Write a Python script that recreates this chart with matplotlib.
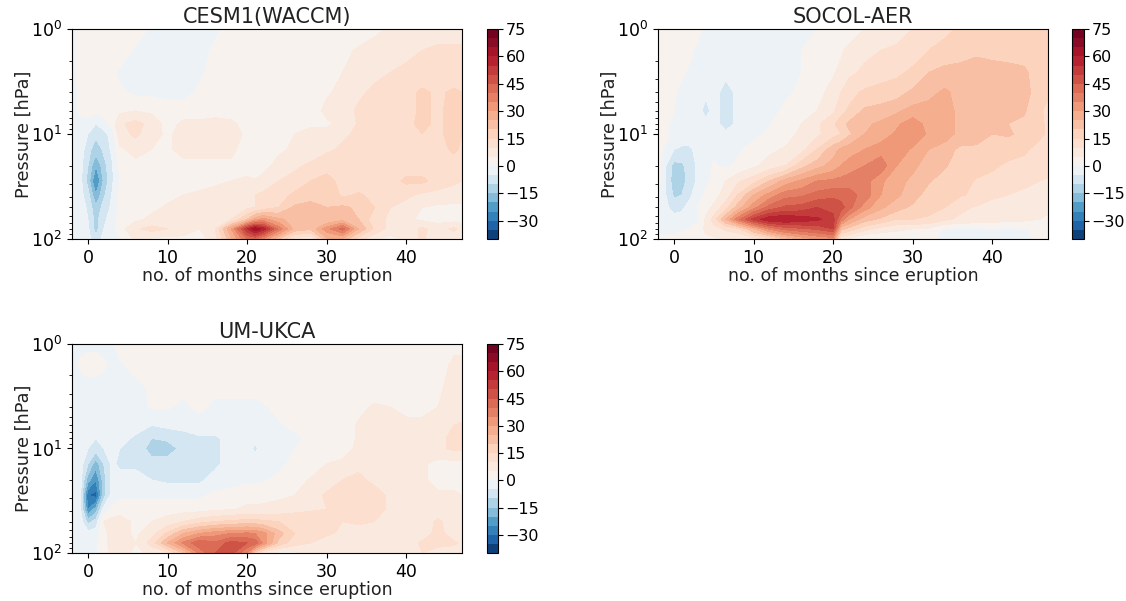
import numpy as np
import matplotlib
matplotlib.use('Agg')
import matplotlib.pyplot as plt
from matplotlib.colors import TwoSlopeNorm

# months since eruption and pressure levels of the grid
months = [-2, -1, 0, 1, 2, 3, 4, 6, 8, 10, 12, 14, 16, 18, 20, 21, 22, 24, 26, 28, 30, 32, 34, 36, 38, 40, 42, 44, 46, 47]
months_socol = [-2, 0, 1, 2, 3, 4, 5, 6.5, 8, 10, 12, 14, 16, 18, 20, 21, 22, 24, 26, 28, 30, 32, 34, 36, 38, 40, 42, 44, 46, 47]
pressure = [1, 1.6, 2.6, 4, 6, 8, 10, 14, 20, 28, 38, 50, 65, 80, 100]

levels = [-40, -35, -30, -25, -20, -15, -10, -5, 0, 5, 10, 15, 20, 25, 30, 35, 40, 45, 50, 55, 60, 65, 70, 75]
cbar_ticks = [-30, -15, 0, 15, 30, 45, 60, 75]

cesm = [
    [-2, 2, 3, 3, 3, 3, 3, 3, -1, -2, -2, -2, -1, 2, 3, 3, 3, 3, 3, 3, 3, 3, 3, 4, 5.5, 6, 7, 8, 8, 8],
    [-2, 2, 3, 3, 3, 3, 3, -1, -2, -2, -2, -2, 1, 3, 3, 3, 3, 3, 3, 3, 3, 4, 5.5, 7, 8, 9, 10, 11, 11, 11],
    [-2, 2, 3, 3, 3, 1, -1, -2, -2, -2, -2, -1, 2, 3, 3, 3, 3, 3, 3, 3, 3, 5, 7, 9, 10, 11, 12, 12, 12, 12],
    [-2, 1, 3, 3, 3, 2, 1, -1, -1, -2, -2, 1, 3, 3, 3, 3, 3, 3, 3, 3, 4.5, 6, 9, 11, 12, 13, 16, 14, 16, 15],
    [-2, 1, 2, 1, 2, 3, 4, 5, 4, 3, 3, 3, 3, 3, 3, 3, 3, 3, 3, 3, 6, 7, 11, 12, 13, 13, 16, 14, 17, 15],
    [-2, -2, -2, -5, -2, 2, 9, 12, 8, 3, 6, 6, 7, 6, 3, 3, 3, 3, 4, 4.5, 4, 7, 10.5, 12, 13, 14, 16, 14, 17, 15],
    [-2, -2, -5, -9, -7, -3, 8, 11, 7, 4, 7, 7, 8, 7, 4, 3, 3, 3, 5, 6, 7, 9, 11, 12, 13, 14, 15, 14, 17, 15],
    [-2, -2, -8, -13, -9, -4, 4, 7, 5, 4, 7, 7, 7, 6, 3, 2, 3, 4, 6, 7, 9, 11, 12, 12, 12, 12, 13, 13, 16, 14],
    [-2, -3, -10, -20, -12, -6, 1, 3, 3, 3, 3, 3, 3, 4, 3, -1, 3, 7, 9, 11, 14, 13, 13, 13, 13, 13, 13, 13, 12, 11.5],
    [-2, -3, -12, -26, -14, -6, 0, 3, 3, 3, 3, 3, 4, 5, 6, 6, 7, 10, 12, 15, 16, 14, 13, 13, 13, 16, 16, 13, 11, 10],
    [-2, -3, -8, -20, -11, -5, 1, 3, 3, 4, 5, 6, 7, 8, 9, 10, 11, 13, 16, 18, 19, 14, 15.5, 14, 12.5, 11, 9, 8, 7, 7],
    [-2, -2, -6, -14, -8, -4, 1, 3, 4, 5.5, 5.5, 7, 8, 8, 9, 10, 12, 15, 21, 22, 20, 21, 19, 15, 10, 8, 5, 4, 4, 4],
    [-2, -2, -5, -12, -6, -3, 2, 4, 6, 6, 6, 8, 9, 10, 20, 28, 32, 26, 23, 23, 20, 23, 20, 12, 9, 6, 4, 3, 3, 3],
    [-2, -2, -4, -12, -5, -3, 3, 9, 12, 10, 9, 5, 10, 30, 54, 64, 58, 38, 23, 21, 33, 42, 25, 14, 8, 7, 11, 8, 11, 8],
    [-1, -2, -3, -9, -3, -2, 0, 6, 4, 3, 3, 2, 8, 24, 40, 40, 34, 20, 8, 5, 24, 24, 12, 6, 3, 6, 11, 5, 6, 5],
]

socol = [
    [3, 3, 3, 2, 1, -1, -1.5, -2, -3, -3, -3, -3, -2, 0, 1, 2, 3, 5, 6, 8, 10, 12, 14, 15.5, 16, 16, 17, 17, 17, 17],
    [3, 3, 3, 1, -1, -2, -2, -3, -3, -3, -3, -3, 0, 1, 3, 4.5, 6, 9, 10, 11, 13, 15, 16.5, 18, 19, 18, 18, 18, 17, 17],
    [3, 2, 1, -1, -2, -3, -3, -4, -3, -3, -3, -2, 0, 3, 4.5, 6, 9, 11, 13, 14, 16, 20, 22, 22, 23, 23, 22, 21, 17, 16],
    [3, 1, -2, -3, -3, -4, -3, -7, -4, -3, -3, -1, 1, 3, 7, 10, 13, 16, 17, 18, 21, 23, 26, 23, 22, 22, 22, 22, 17, 16],
    [3, 0, -1, -2, -3, -7, -3, -7, -4, -3, -2, 1, 3, 5, 9, 13, 16, 21, 22, 24, 27, 28, 28, 23, 22, 22, 22, 20.5, 16, 13],
    [3, -1, -2, -2, -3, -3, -3, -7, -4, -2, -0.5, 3, 5, 9, 14, 18, 21, 24, 26, 29, 33, 28, 28, 23, 22, 22, 20, 19, 16, 14],
    [3, -1, -2, -2, -3, -3, -3, -4, -3, -1.5, 1, 3, 6, 9, 13, 15, 19, 25, 27, 31, 34, 29, 28, 23, 22, 20, 20.5, 19, 16, 14],
    [2, -5, -6, -6, -3, -2, -1, -2, -1, 2, 4, 5.5, 8, 15, 23, 26, 28, 30, 33, 34, 29, 25, 22, 19, 19, 19.5, 17, 16, 13, 12],
    [2, -12, -11, -8, -4, -2, 0.5, -1, 1, 4, 7, 10, 18, 23, 27, 30, 32, 35, 38, 30, 26, 23, 20.5, 18, 17, 16, 14, 13, 12, 12],
    [2, -13, -12, -8, -4, -1, 1, 5, 9, 13, 20, 27, 31, 35, 36, 37, 38, 37, 31, 26.5, 24, 20.5, 18, 17, 14.5, 13, 12, 11, 10, 9.5],
    [1, -11, -10, -6, -2, 1, 3, 7, 15, 25, 32, 38, 39, 42, 44, 43, 42, 38, 30, 26, 22, 18, 17, 15.5, 14, 10.5, 10, 9, 8, 8],
    [-1, -7, -6, -3, 0, 3, 6, 13, 22, 33, 42, 46, 47, 50, 48, 47, 42, 32, 26, 22, 19, 16, 15, 11, 9.5, 9, 8, 7, 6, 6],
    [-2, -3, -3, -2, -1, 6, 12, 25, 38, 52, 59, 60, 58, 56, 52, 38, 30, 22, 19, 15, 15, 14.5, 11, 9, 8, 7, 7, 6, 5, 4],
    [-2, -2, -1, 0, 2, 6, 8, 11, 13, 25, 36, 42, 44, 46, 50, 22, 18, 12, 8, 6, 5, 4, -1, -1, -1, -0.5, -1, -0.5, 1, 2],
    [1, 2, 3, 3, 3, 4, 4, 5, 5, 7, 12, 20, 26, 30, 32, 6, 4, -1, -0.5, 1, -1, 1, -1, -1, -1, -1, -1, -1, 1, 1],
]

ukca = [
    [-2, -1, -1, -1, -1, -0.5, 1, 2, 2, 2, 2, 2, 2, 2, 2, 2, 2, 2, 2, 2, 2, 2, 2, 2, 2, 2, 3, 3, 4, 4],
    [-2, 0.5, 2, 2, 0.5, -1, -0.5, 1, 2, 2, 2, 2, 2, 2, 2, 2, 2, 2, 2, 2, 2, 2, 2, 2, 2, 2, 3, 3, 6, 6],
    [-2, -2, -2, -2, -2, -2, -2, -1, 0.5, 1, 1, 1, 1, 1, 1, 1, 1.5, 2, 2, 2, 2, 2, 3, 3, 3, 3, 3, 4.5, 6, 6],
    [-2, -2, -2, -2, -2, -2, -2, -2, 0.5, 0.5, -1, 1, -1, -1, -1, -1, -0.5, 1, 2, 3, 3, 3, 4, 5.5, 5, 4, 4, 5, 6, 6],
    [-2, -2, -2, -2, -2, -3, -3, -3, -5, -4, -3, -2, -2, -2, -2, -2, -2, -0.5, 1, 2, 3, 3, 5.5, 6, 6, 6, 6, 7, 10, 11],
    [-2, -2, -3, -5, -3, -2, -3, -6, -10, -9, -8, -6, -6, -3, -3, -4, -3, -2, -1, 1, 2, 3, 5.5, 6, 6, 6, 6, 9, 11, 11],
    [-2, -2, -5, -8, -5, -3, -5, -7, -12, -13, -8, -6, -6, -3, -3, -6, -3, -2, 0, 1, 2, 3, 6, 6, 6, 6, 6, 9, 11, 11],
    [-2, -2, -10, -18, -10, -4, -6, -6, -8, -7, -6, -6, -6, -3, -2, -2, -1.5, -1, 1, 2, 5, 6, 9, 7, 7, 6, 6, 3, 3, 3],
    [-2, -2, -18, -25, -12, -4, -3, -3, -5, -6, -6, -6, -3, -2, -1, -1, -0.5, 1, 3, 5.5, 7, 10, 11, 9, 7, 6, 6, 3, 3, 3],
    [-2, -3, -30, -32, -12, -3, -1, -1, -1, -1, -1, -1, 1, 2, 3, 3, 3, 4, 5, 7, 11, 12, 12, 12, 9, 7, 6, 6, 6, 5],
    [-2, -3, -25, -18, -3, 1, 3, 3, 3, 3, 3, 3, 4, 4.5, 6, 6, 6.5, 7, 8, 9, 10, 11, 12, 12, 9, 8, 7, 7, 7, 7],
    [-2, -2, -12, -8, 5, 7, 7, 4, 5, 7, 10, 13, 15, 16, 17, 17, 16, 15, 15, 15, 14, 10, 11, 10, 8, 7, 7, 11, 7, 7],
    [-2, -2, -3, -2, 3, 7, 7, 4, 8, 16, 25, 30, 33, 35, 36, 35, 32, 22, 15, 12, 11, 9, 7, 7, 6, 7, 7, 12, 7, 7],
    [-2, -2, -2, -1, 3, 7, 7, 5, 12, 25, 36, 44, 41, 47, 45, 43, 34, 18, 12, 10, 7, 6, 8, 7, 6, 7, 11, 12, 11, 9],
    [-2, -2, -1, -0.5, 2, 7, 7, 4, 6, 9, 20, 36, 45, 47, 34, 17, 7, 3, 4, 5, 6, 6, 6, 6, 6, 7, 10, 7, 7, 7],
]

titles = ['CESM1(WACCM)', 'SOCOL-AER', 'UM-UKCA']
panels = [cesm, socol, ukca]
panel_months = [months, months_socol, months]

W, H = 1126, 601
fig = plt.figure(figsize=(W / 100, H / 100), dpi=100)


def px_axes(x0, y0, x1, y1):
    # position given in pixels from the top left corner
    return fig.add_axes([x0 / W, 1 - y1 / H, (x1 - x0) / W, (y1 - y0) / H])


boxes = [(72, 29, 462, 239), (658, 29, 1048, 239), (72, 344, 462, 553)]
cboxes = [(487, 29, 498, 239), (1072, 29, 1084, 239), (487, 344, 498, 553)]

norm = TwoSlopeNorm(vmin=-40, vcenter=0, vmax=75)

for title, data, mths, box, cbox in zip(titles, panels, panel_months, boxes, cboxes):
    ax = px_axes(*box)
    cf = ax.contourf(mths, pressure, np.array(data), levels=levels, cmap='RdBu_r', norm=norm)
    ax.set_yscale('log')
    ax.set_ylim(100, 1)
    ax.set_xlim(-2, 47)
    ax.set_xticks([0, 10, 20, 30, 40])
    ax.tick_params(axis='both', which='major', labelsize=12.5)
    ax.set_title(title, fontsize=15, pad=4, color='#222222')
    ax.set_xlabel('no. of months since eruption', fontsize=12.5, labelpad=0, color='#222222')
    ax.set_ylabel('Pressure [hPa]', fontsize=12.7, labelpad=-1, color='#222222')
    cax = px_axes(*cbox)
    cb = fig.colorbar(cf, cax=cax, ticks=cbar_ticks)
    cb.ax.tick_params(labelsize=11.5, pad=2)

fig.savefig('out.png', dpi=100)
